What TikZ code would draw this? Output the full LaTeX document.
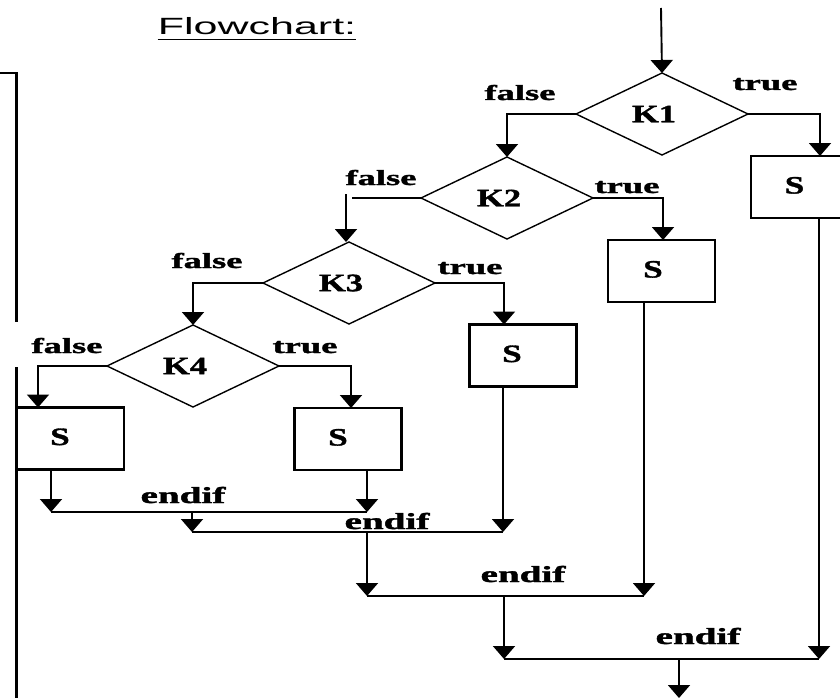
\documentclass[tikz,border=0pt]{standalone}
\usepackage{graphicx}
\usepackage{fontspec}
\setmainfont{Liberation Serif}[BoldFeatures={FakeBold=1.3}]
\newfontfamily\titlefont{Liberation Sans}
\usetikzlibrary{shapes.geometric,arrows.meta}

% horizontally stretched text
\newcommand\wide[2]{\scalebox{#1}[1]{#2}}
\newcommand\lblfont{\fontsize{21.5}{21.5}\selectfont\bfseries}
\newcommand\joinfont{\fontsize{23}{23}\selectfont\bfseries}
\newcommand\kfont{\fontsize{25}{25}\selectfont\bfseries}

\begin{document}
\begin{tikzpicture}[x=1pt,y=-1pt,
  wire/.style={line width=1.9pt},
  flow/.style={line width=1.9pt,-{Triangle[width=22pt,length=13pt]}},
  decision/.style={diamond,draw,line width=1.4pt,minimum width=172pt,
    minimum height=82pt,inner sep=0pt,outer sep=0pt,font=\kfont},
  stmt/.style={rectangle,draw,line width=2.1pt,minimum width=107pt,
    minimum height=62pt,inner sep=0pt,outer sep=0pt,font=\kfont},
  lbl/.style={anchor=base,inner sep=0pt,font=\lblfont},
  joinlbl/.style={anchor=base,inner sep=0pt,font=\joinfont},
]
\clip (0,0) rectangle (840,698);

% title
\node[anchor=base,inner sep=0pt] (title) at (257,35)
  {\titlefont\fontsize{23.5}{24}\selectfont\wide{1.83}{Flowchart:}};
\draw[line width=1.3pt] (title.south west |- 0,39.5) -- (title.south east |- 0,39.5);

% frame of the program text on the left
\draw[line width=2.2pt] (0,73) -- (16.5,73) -- (16.5,322);
\draw[line width=2.2pt] (16.5,367) -- (16.5,698);

% decisions
\node[decision] (k1) at (662,114) {\kern-16pt\wide{1.38}{K1}};
\node[decision] (k2) at (507,198) {\kern-16pt\wide{1.38}{K2}};
\node[decision] (k3) at (349,283) {\kern-16pt\wide{1.38}{K3}};
\node[decision] (k4) at (193,366) {\kern-16pt\wide{1.38}{K4}};

% statements
\node[stmt] (sA) at (804.5,187)   {\kern-20pt\raisebox{3.5pt}{\wide{1.4}{S}}};
\node[stmt] (sB) at (661.5,271)   {\kern-17pt\raisebox{3.5pt}{\wide{1.4}{S}}};
\node[stmt] (sC) at (523,355.5)   {\kern-22pt\raisebox{3.5pt}{\wide{1.4}{S}}};
\node[stmt] (sD) at (70.5,438.5)  {\kern-21pt\raisebox{3.5pt}{\wide{1.4}{S}}};
\node[stmt] (sE) at (348,439)     {\kern-20pt\raisebox{3.5pt}{\wide{1.4}{S}}};

% columns where the branches enter and leave the statements
\coordinate (inA) at (820,0);  \coordinate (outA) at (819,0);
\coordinate (inB) at (663,0);  \coordinate (outB) at (644,0);
\coordinate (inC) at (504,0);  \coordinate (outC) at (503,0);
\coordinate (inD) at (38,0);   \coordinate (outD) at (51,0);
\coordinate (inE) at (351,0);  \coordinate (outE) at (367,0);

% join rows
\coordinate (j1) at (192,512);
\coordinate (j2) at (367,532);
\coordinate (j3) at (504,596);
\coordinate (j4) at (679,659);
\coordinate (start) at (661,8);
\coordinate (stop) at (679,698);

% entry
\draw[flow] (start) -- (k1.north);

% branches
\draw[flow] (k1.west) -| (k2.north);
\draw[flow] (k1.east) -| (inA |- sA.north);
\draw[wire] (k2.west) -- ([xshift=3pt]k2.west -| k3.north);
\draw[flow] ([xshift=-3pt,yshift=4pt]k2.west -| k3.north) -- ([xshift=-3pt]k3.north);
\draw[flow] (k2.east) -| (inB |- sB.north);
\draw[flow] (k3.west) -| (k4.north);
\draw[flow] (k3.east) -| (inC |- sC.north);
\draw[flow] (k4.west) -| (inD |- sD.north);
\draw[flow] (k4.east) -| (inE |- sE.north);

% innermost endif
\draw[flow] (outD |- sD.south) -- (outD |- j1);
\draw[flow] (outE |- sE.south) -- (outE |- j1);
\draw[wire] (outD |- j1) -- (outE |- j1);
% second endif
\draw[flow] (j1) -- (j1 |- j2);
\draw[flow] (outC |- sC.south) -- (outC |- j2);
\draw[wire] (j1 |- j2) -- (outC |- j2);
% third endif
\draw[flow] (j2) -- (j2 |- j3);
\draw[flow] (outB |- sB.south) -- (outB |- j3);
\draw[wire] (j2 |- j3) -- (outB |- j3);
% outer endif
\draw[flow] (j3) -- (j3 |- j4);
\draw[flow] (outA |- sA.south) -- (outA |- j4);
\draw[wire] (j3 |- j4) -- (outA |- j4);
\draw[flow] (j4) -- (stop);

% branch labels
\node[lbl] (f1) at (520,100) {\wide{1.7}{false}};
\node[lbl] (t1) at (765,90)  {\wide{1.7}{true}};
\node[lbl] (f2) at (381,185) {\wide{1.7}{false}};
\node[lbl] (t2) at (627,193) {\wide{1.7}{true}};
\node[lbl] (f3) at (207,268) {\wide{1.7}{false}};
\node[lbl] (t3) at (470,274) {\wide{1.7}{true}};
\node[lbl] (f4) at (67,353)  {\wide{1.7}{false}};
\node[lbl] (t4) at (305,353) {\wide{1.7}{true}};

% endif labels
\node[joinlbl] (e1) at (183,503) {\wide{1.7}{endif}};
\node[joinlbl] (e2) at (387,529) {\wide{1.7}{endif}};
\node[joinlbl] (e3) at (523,582) {\wide{1.7}{endif}};
\node[joinlbl] (e4) at (698,644) {\wide{1.7}{endif}};
\end{tikzpicture}
\end{document}
